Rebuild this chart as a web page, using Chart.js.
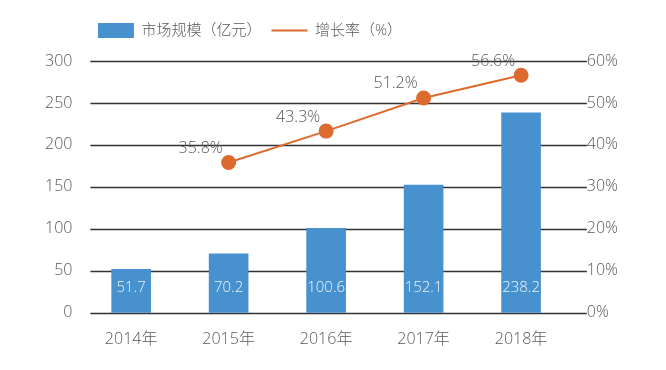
<!DOCTYPE html>
<html>
<head>
<meta charset="utf-8">
<script src="https://cdn.jsdelivr.net/npm/chart.js@4/dist/chart.umd.min.js"></script>
<style>
  html, body { margin: 0; padding: 0; background: #fff; }
  #wrap { width: 666px; height: 370px; }
</style>
</head>
<body>
<div id="wrap"><canvas id="marketChart"></canvas></div>
<script>
// data
const years = ["2014年", "2015年", "2016年", "2017年", "2018年"];
const marketSize = [51.7, 70.2, 100.6, 152.1, 238.2];          // 亿元
const growthRate = [null, 35.8, 43.3, 51.2, 56.6];             // %
const leftTicks = [0, 50, 100, 150, 200, 250, 300];
const rightTicks = [0, 10, 20, 30, 40, 50, 60];

const FONT = "'Open Sans', 'Noto Sans CJK SC', sans-serif";
const TEXT_GREY = "#595959";
const BLUE = "#4891cf";
const ORANGE = "#dd6a2e";

// gridlines a bit wider than the plot area, drawn under the bars
const wideGrid = {
    id: "wideGrid",
    beforeDatasetsDraw(chart) {
        const ctx = chart.ctx;
        const y = chart.scales.y;
        const area = chart.chartArea;
        ctx.save();
        ctx.strokeStyle = "#333333";
        ctx.lineWidth = 1.5;
        leftTicks.forEach(v => {
            const py = Math.round(y.getPixelForValue(v)) + 0.5;
            ctx.beginPath();
            ctx.moveTo(area.left + 8, py);
            ctx.lineTo(area.right + 17, py);
            ctx.stroke();
        });
        ctx.restore();
    }
};

// value labels: white inside bars, grey next to line points
const valueLabels = {
    id: "valueLabels",
    afterDatasetsDraw(chart) {
        const ctx = chart.ctx;
        ctx.save();
        ctx.font = "300 15px " + FONT;
        ctx.textAlign = "center";
        ctx.textBaseline = "middle";

        const bars = chart.getDatasetMeta(0).data;
        ctx.fillStyle = "#eef4fa";
        bars.forEach((bar, i) => {
            ctx.fillText(marketSize[i].toFixed(1), bar.x, bar.base - 25);
        });

        const pts = chart.getDatasetMeta(1).data;
        ctx.fillStyle = TEXT_GREY;
        ctx.font = "300 16px " + FONT;
        pts.forEach((pt, i) => {
            if (growthRate[i] == null) return;
            ctx.fillText(growthRate[i].toFixed(1) + "%", pt.x - 28, pt.y - 14);
        });
        ctx.restore();
    }
};

// the reference legend sits left of centre and a little higher
const shiftLegend = {
    id: "shiftLegend",
    afterLayout(chart) {
        const lg = chart.legend;
        lg.left -= 85;
        lg.right -= 85;
        lg.top -= 13;
        lg.bottom -= 13;
    }
};

let ctx = document.getElementById("marketChart").getContext("2d");

let marketChart = new Chart(ctx, {
    data: {
        labels: years,
        datasets: [
            {
                type: "bar",
                label: "市场规模（亿元）",
                data: marketSize,
                backgroundColor: BLUE,
                barThickness: 39,
                yAxisID: "y",
                order: 2
            },
            {
                type: "line",
                label: "增长率（%）",
                data: growthRate,
                borderColor: ORANGE,
                borderWidth: 2,
                backgroundColor: ORANGE,
                pointBackgroundColor: ORANGE,
                pointBorderColor: ORANGE,
                pointRadius: 6.5,
                tension: 0,
                yAxisID: "y1",
                order: 1
            }
        ]
    },
    options: {
        responsive: true,
        maintainAspectRatio: false,
        animation: false,
        layout: {
            padding: { left: 35, right: 31, top: 26, bottom: 4 }
        },
        scales: {
            x: {
                grid: { display: false, drawTicks: false },
                border: { display: false },
                ticks: {
                    color: TEXT_GREY,
                    padding: 17,
                    font: { family: FONT, size: 16, weight: 300 }
                }
            },
            y: {
                position: "left",
                min: 0,
                max: 300,
                afterBuildTicks: axis => { axis.ticks = leftTicks.map(v => ({ value: v })); },
                grid: { display: false, drawTicks: false },
                border: { display: false },
                ticks: {
                    color: TEXT_GREY,
                    padding: 10,
                    font: { family: FONT, size: 16, weight: 300 }
                }
            },
            y1: {
                position: "right",
                min: 0,
                max: 60,
                afterBuildTicks: axis => { axis.ticks = rightTicks.map(v => ({ value: v })); },
                grid: { display: false, drawTicks: false },
                border: { display: false },
                ticks: {
                    color: TEXT_GREY,
                    padding: 17,
                    callback: v => v + "%",
                    font: { family: FONT, size: 16, weight: 300 }
                }
            }
        },
        plugins: {
            legend: {
                position: "top",
                labels: {
                    color: TEXT_GREY,
                    usePointStyle: true,
                    pointStyleWidth: 36,
                    boxHeight: 19,
                    padding: 10,
                    font: { family: FONT, size: 15, weight: 300 },
                    sort: (a, b) => a.datasetIndex - b.datasetIndex,
                    generateLabels(chart) {
                        const items = Chart.defaults.plugins.legend.labels.generateLabels(chart);
                        items.forEach(item => {
                            if (item.datasetIndex === 0) {
                                item.pointStyle = "rect";
                                item.fillStyle = BLUE;
                                item.lineWidth = 0;
                            } else {
                                item.pointStyle = "line";
                                item.strokeStyle = ORANGE;
                                item.lineWidth = 2;
                            }
                        });
                        return items;
                    }
                }
            },
            tooltip: { enabled: false }
        }
    },
    plugins: [wideGrid, valueLabels, shiftLegend]
});
</script>
</body>
</html>
